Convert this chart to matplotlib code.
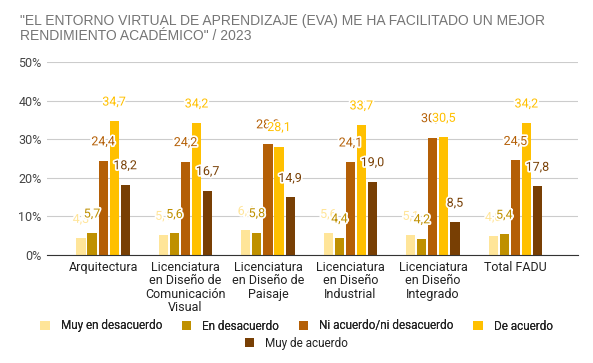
import matplotlib
matplotlib.use("Agg")
import matplotlib.pyplot as plt
import matplotlib.patheffects as pe
from matplotlib.patches import Patch
import numpy as np

categories = ["Arquitectura", "Licenciatura\nen Diseño de\nComunicación\nVisual",
              "Licenciatura\nen Diseño de\nPaisaje", "Licenciatura\nen Diseño\nIndustrial",
              "Licenciatura\nen Diseño\nIntegrado", "Total FADU"]
series_names = ["Muy en desacuerdo", "En desacuerdo", "Ni acuerdo/ni desacuerdo",
                "De acuerdo", "Muy de acuerdo"]
muy_en_desacuerdo = [4.3, 5.1, 6.4, 5.6, 5.1, 4.8]
en_desacuerdo = [5.7, 5.6, 5.8, 4.4, 4.2, 5.4]
ni_acuerdo = [24.4, 24.2, 28.8, 24.1, 30.4, 24.5]
de_acuerdo = [34.7, 34.2, 28.1, 33.7, 30.5, 34.2]
muy_de_acuerdo = [18.2, 16.7, 14.9, 19.0, 8.5, 17.8]
series = [muy_en_desacuerdo, en_desacuerdo, ni_acuerdo, de_acuerdo, muy_de_acuerdo]
colors = ["#FFE599", "#BF9000", "#B45F06", "#FFC000", "#783F04"]
yticks = [0, 10, 20, 30, 40, 50]

plt.rcParams['font.family'] = ['Roboto', 'DejaVu Sans']
fig = plt.figure(figsize=(5.93, 3.63), dpi=100)
ax = fig.add_axes([47/593, 1-255/363, (578-47)/593, (255-62)/363])

x = np.arange(len(categories))
step = 0.134
bw = 0.11
for i, (vals, c) in enumerate(zip(series, colors)):
    pos = x + (i - 2) * step
    ax.bar(pos, vals, width=bw, color=c, zorder=3)
    for px, v in zip(pos, vals):
        t = ax.annotate(f"{v:.1f}".replace(".", ","), (px, v), xytext=(0, 9),
                        textcoords="offset points", ha="center", va="bottom",
                        fontsize=9, color=c, zorder=4)
        t.set_path_effects([pe.withStroke(linewidth=2.5, foreground="white")])

ax.set_xlim(-0.68, 5.76)
ax.set_ylim(0, 50)
ax.set_yticks(yticks)
ax.set_yticklabels([f"{t}%" for t in yticks], fontsize=9, color="#444444")
ax.set_xticks(x)
ax.set_xticklabels(categories, fontsize=9, color="#222222", linespacing=1.05)
ax.tick_params(length=0, pad=4)
ax.grid(axis="y", color="#cccccc", linewidth=0.8, zorder=0)
for s in ["top", "right", "left"]:
    ax.spines[s].set_visible(False)
ax.spines["bottom"].set_color("#333333")
ax.spines["bottom"].set_zorder(5)

fig.text(20/593, 1-14/363, "\"EL ENTORNO VIRTUAL DE APRENDIZAJE (EVA) ME HA FACILITADO UN MEJOR\nRENDIMIENTO ACADÉMICO\" / 2023",
         fontsize=10, color="#757575", family=["Liberation Sans", "DejaVu Sans"],
         va="top", ha="left", linespacing=1.08)

handles = [Patch(facecolor=c, edgecolor="none") for c in colors]
kw = dict(frameon=False, fontsize=8.5, handlelength=0.8, handleheight=0.8,
          handletextpad=0.9, borderpad=0)
leg1 = fig.legend(handles[:4], series_names[:4], loc="center", bbox_to_anchor=(0.5, 1-326/363),
                  ncol=4, columnspacing=1.7, **kw)
for t in leg1.get_texts():
    t.set_color("#222222")
leg2 = fig.legend(handles[4:], series_names[4:], loc="center", bbox_to_anchor=(0.5, 1-343/363),
                  ncol=1, **kw)
for t in leg2.get_texts():
    t.set_color("#222222")
fig.add_artist(leg1)

fig.savefig("out.png", dpi=100)
